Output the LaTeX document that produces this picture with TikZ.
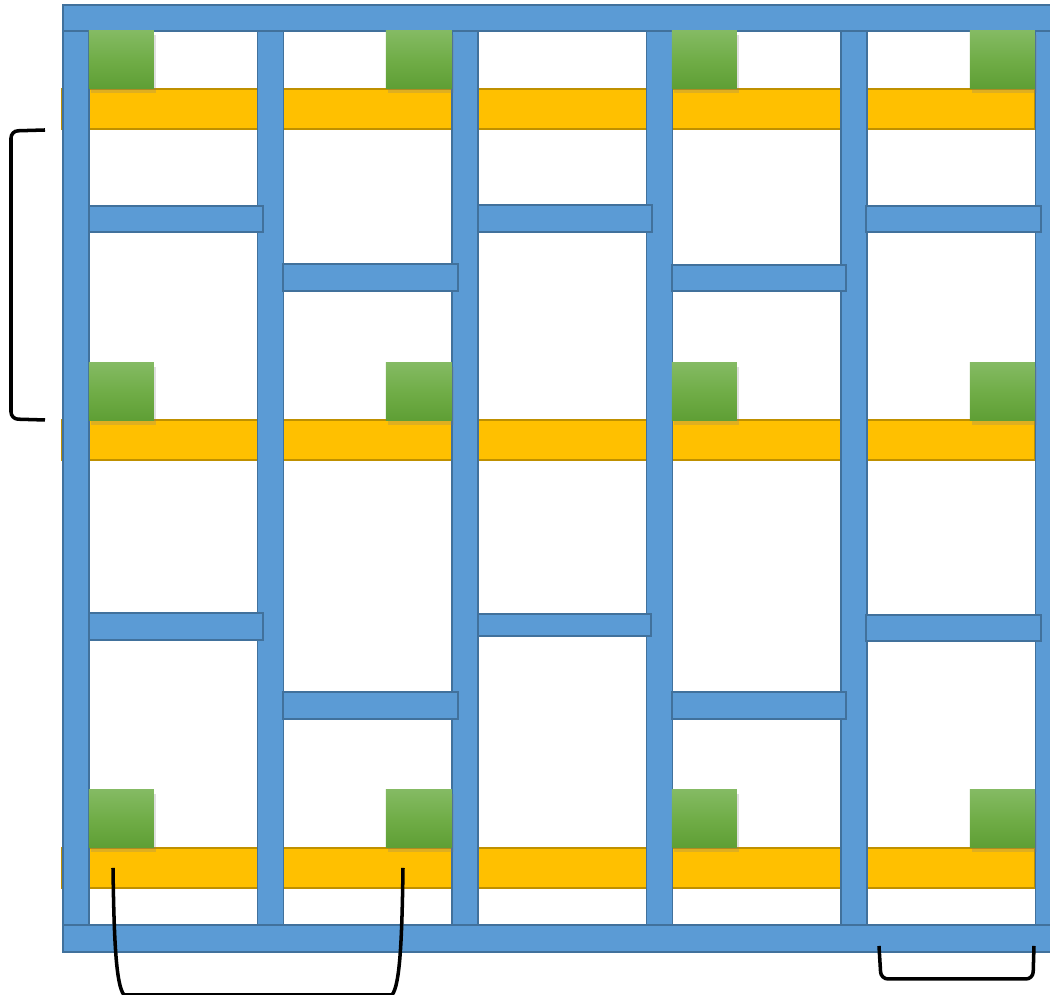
\documentclass[tikz,border=0pt]{standalone}
\usepackage{xcolor}
\usepackage{tikz}
\usetikzlibrary{shadows}
\definecolor{beamblue}{HTML}{5B9BD5}
\definecolor{beamedge}{HTML}{41719C}
\definecolor{plankgold}{HTML}{FFC000}
\definecolor{plankedge}{HTML}{BF9000}
\definecolor{blocktop}{HTML}{84BA63}
\definecolor{blockmid}{HTML}{70AD47}
\definecolor{blockbot}{HTML}{5E9E34}

\begin{document}
\begin{tikzpicture}[
      x=0.01cm, y=-0.01cm,
      beam/.style={fill=beamblue, draw=beamedge, line width=0.5pt},
      plank/.style={fill=plankgold, draw=plankedge, line width=0.5pt},
      block/.style={top color=blocktop, bottom color=blockbot, middle color=blockmid,
        draw=none, drop shadow={shadow xshift=0.6pt, shadow yshift=-1.2pt, opacity=0.25}},
      bracket/.style={draw=black, line width=1pt, rounded corners=2pt}
    ]
      \useasboundingbox (0,0) rectangle (1050,995);
      \clip (0,0) rectangle (1050,995);

      % Planks (under the posts)
      \foreach \y in {89,420,848}
        \draw[plank] (62,\y) rectangle (1035,\y+40);

      % Posts
      \foreach \x in {63,257.5,452,646.5,841,1035.5}
        \draw[beam] (\x,30) rectangle (\x+26,926);

      % Top and bottom beams
      \draw[beam] (63,5) rectangle (1062,31);
      \draw[beam] (63,925) rectangle (1062,952);

      % Cross beams
      \foreach \xa/\ya/\xb/\yb in {89/206/263/232, 283/264/458/291, 478/205/652/232,
          672/265/846/291, 866/206/1041/232, 89/613/263/640, 283/692/458/719,
          478/614/651/636, 672/692/846/719, 866/615/1041/641}
        \draw[beam] (\xa,\ya) rectangle (\xb,\yb);

      % Blocks
      \foreach \y in {31,363,790} {
        \fill[block] (89,\y) rectangle (154,\y+58);
        \fill[block] (386,\y) rectangle (452,\y+58);
        \fill[block] (672,\y) rectangle (737,\y+58);
        \fill[block] (970,\y) rectangle (1035,\y+58);
      }

      % Brackets
      \draw[bracket] (45,130) -- (11,131) -- (11,419) -- (45,420);
      \draw[bracket, rounded corners=0pt]
        (113,868) .. controls (114,940) and (116,985) .. (124,995)
        -- (392,995) .. controls (400,985) and (402,940) .. (403,868);
      \draw[bracket] (879,946) -- (881,979) -- (1033,979) -- (1034,946);
    \end{tikzpicture}
\end{document}
